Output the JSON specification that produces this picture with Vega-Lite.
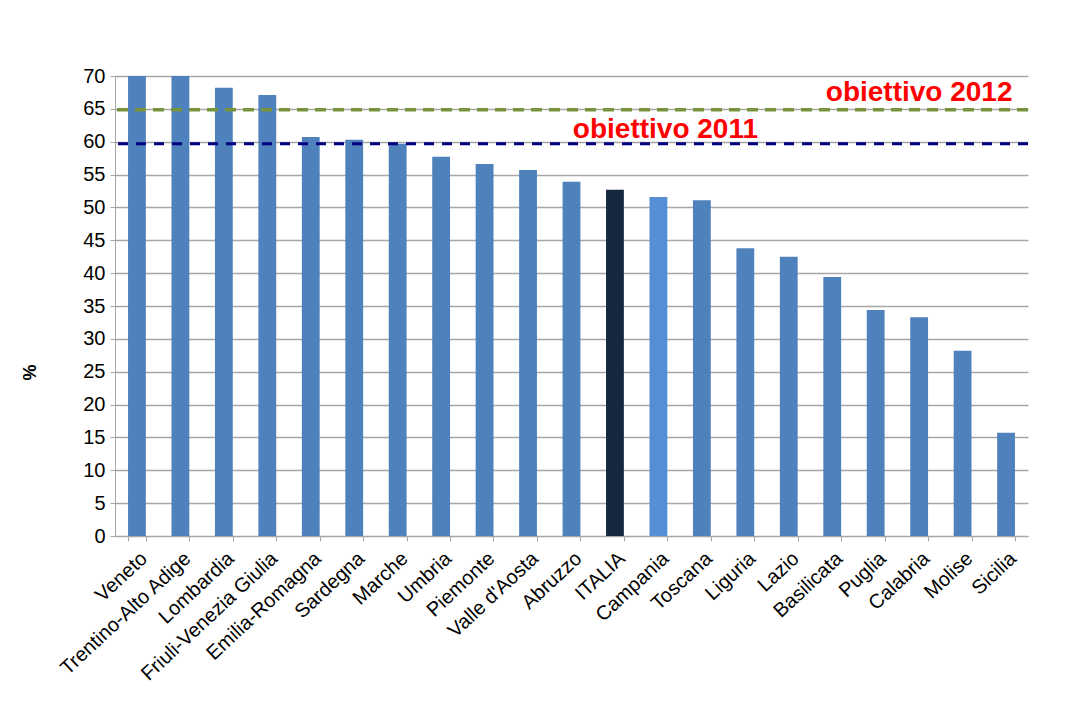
{
  "$schema": "https://vega.github.io/schema/vega-lite/v6.json",
  "width": 913,
  "height": 460,
  "autosize": {"type": "none"},
  "padding": {"left": 115, "top": 76, "right": 53, "bottom": 178},
  "background": "white",
  "data": {
    "values": [
      {"regione": "Veneto", "valore": 70},
      {"regione": "Trentino-Alto Adige", "valore": 70},
      {"regione": "Lombardia", "valore": 68.2},
      {"regione": "Friuli-Venezia Giulia", "valore": 67.1},
      {"regione": "Emilia-Romagna", "valore": 60.7},
      {"regione": "Sardegna", "valore": 60.3},
      {"regione": "Marche", "valore": 59.7},
      {"regione": "Umbria", "valore": 57.7},
      {"regione": "Piemonte", "valore": 56.6},
      {"regione": "Valle d'Aosta", "valore": 55.7},
      {"regione": "Abruzzo", "valore": 53.9},
      {"regione": "ITALIA", "valore": 52.7},
      {"regione": "Campania", "valore": 51.6},
      {"regione": "Toscana", "valore": 51.1},
      {"regione": "Liguria", "valore": 43.8},
      {"regione": "Lazio", "valore": 42.5},
      {"regione": "Basilicata", "valore": 39.4},
      {"regione": "Puglia", "valore": 34.4},
      {"regione": "Calabria", "valore": 33.3},
      {"regione": "Molise", "valore": 28.2},
      {"regione": "Sicilia", "valore": 15.7}
    ]
  },
  "layer": [
    {
      "mark": {"type": "bar"},
      "encoding": {
        "x": {
          "field": "regione",
          "type": "nominal",
          "sort": null,
          "title": null,
          "scale": {"paddingInner": 0.59, "paddingOuter": 0.3},
          "axis": {
            "labelAngle": -43,
            "labelFontSize": 20,
            "labelPadding": 7,
            "labelOverlap": false,
            "tickBand": "extent",
            "tickSize": 5,
            "tickColor": "#a6a6a6",
            "domainColor": "#a6a6a6",
            "grid": false
          }
        },
        "y": {
          "field": "valore",
          "type": "quantitative",
          "title": "%",
          "scale": {"domain": [0, 70], "nice": false},
          "axis": {
            "values": [0, 5, 10, 15, 20, 25, 30, 35, 40, 45, 50, 55, 60, 65, 70],
            "labelOverlap": false,
            "labelFontSize": 20,
            "labelPadding": 5,
            "tickSize": 5,
            "tickColor": "#a6a6a6",
            "domainColor": "#a6a6a6",
            "gridColor": "#a6a6a6",
            "gridWidth": 1.3,
            "titleFontSize": 18,
            "titleFontWeight": "bold",
            "titleAngle": -90,
            "titleX": -76,
            "titleY": 296
          }
        },
        "color": {
          "condition": [
            {"test": "datum.regione === 'ITALIA'", "value": "#14273f"},
            {"test": "datum.regione === 'Campania'", "value": "#558ed5"}
          ],
          "value": "#4f81bd"
        }
      }
    },
    {
      "data": {"values": [{"obiettivo": "obiettivo 2012", "soglia": 64.85}]},
      "mark": {"type": "rule", "color": "#77933c", "strokeWidth": 3.5, "strokeDash": [11, 7]},
      "encoding": {
        "y": {
          "field": "soglia",
          "type": "quantitative",
          "title": "%",
          "axis": {
            "values": [0, 5, 10, 15, 20, 25, 30, 35, 40, 45, 50, 55, 60, 65, 70],
            "labelOverlap": false,
            "labelFontSize": 20,
            "labelPadding": 5,
            "tickSize": 5,
            "tickColor": "#a6a6a6",
            "domainColor": "#a6a6a6",
            "gridColor": "#a6a6a6",
            "gridWidth": 1.3,
            "titleFontSize": 18,
            "titleFontWeight": "bold",
            "titleAngle": -90,
            "titleX": -76,
            "titleY": 296
          }
        }
      }
    },
    {
      "data": {"values": [{"obiettivo": "obiettivo 2011", "soglia": 59.7}]},
      "mark": {"type": "rule", "color": "#000080", "strokeWidth": 3, "strokeDash": [10, 8]},
      "encoding": {
        "y": {
          "field": "soglia",
          "type": "quantitative",
          "title": "%",
          "axis": {
            "values": [0, 5, 10, 15, 20, 25, 30, 35, 40, 45, 50, 55, 60, 65, 70],
            "labelOverlap": false,
            "labelFontSize": 20,
            "labelPadding": 5,
            "tickSize": 5,
            "tickColor": "#a6a6a6",
            "domainColor": "#a6a6a6",
            "gridColor": "#a6a6a6",
            "gridWidth": 1.3,
            "titleFontSize": 18,
            "titleFontWeight": "bold",
            "titleAngle": -90,
            "titleX": -76,
            "titleY": 296
          }
        }
      }
    },
    {
      "data": {"values": [{"obiettivo": "obiettivo 2012", "soglia": 64.85}]},
      "mark": {"type": "text", "color": "#ff0000", "fontSize": 28, "fontWeight": "bold", "align": "center", "baseline": "middle", "dy": -17},
      "encoding": {
        "text": {"field": "obiettivo"},
        "x": {
          "datum": "Calabria",
          "type": "nominal",
          "title": null,
          "axis": {
            "labelAngle": -43,
            "labelFontSize": 20,
            "labelPadding": 7,
            "labelOverlap": false,
            "tickBand": "extent",
            "tickSize": 5,
            "tickColor": "#a6a6a6",
            "domainColor": "#a6a6a6",
            "grid": false
          }
        },
        "y": {
          "field": "soglia",
          "type": "quantitative",
          "title": "%",
          "axis": {
            "values": [0, 5, 10, 15, 20, 25, 30, 35, 40, 45, 50, 55, 60, 65, 70],
            "labelOverlap": false,
            "labelFontSize": 20,
            "labelPadding": 5,
            "tickSize": 5,
            "tickColor": "#a6a6a6",
            "domainColor": "#a6a6a6",
            "gridColor": "#a6a6a6",
            "gridWidth": 1.3,
            "titleFontSize": 18,
            "titleFontWeight": "bold",
            "titleAngle": -90,
            "titleX": -76,
            "titleY": 296
          }
        }
      }
    },
    {
      "data": {"values": [{"obiettivo": "obiettivo 2011", "soglia": 59.7}]},
      "mark": {"type": "text", "color": "#ff0000", "fontSize": 28, "fontWeight": "bold", "align": "center", "baseline": "middle", "dx": 7, "dy": -14},
      "encoding": {
        "text": {"field": "obiettivo"},
        "x": {
          "datum": "Campania",
          "type": "nominal",
          "title": null,
          "axis": {
            "labelAngle": -43,
            "labelFontSize": 20,
            "labelPadding": 7,
            "labelOverlap": false,
            "tickBand": "extent",
            "tickSize": 5,
            "tickColor": "#a6a6a6",
            "domainColor": "#a6a6a6",
            "grid": false
          }
        },
        "y": {
          "field": "soglia",
          "type": "quantitative",
          "title": "%",
          "axis": {
            "values": [0, 5, 10, 15, 20, 25, 30, 35, 40, 45, 50, 55, 60, 65, 70],
            "labelOverlap": false,
            "labelFontSize": 20,
            "labelPadding": 5,
            "tickSize": 5,
            "tickColor": "#a6a6a6",
            "domainColor": "#a6a6a6",
            "gridColor": "#a6a6a6",
            "gridWidth": 1.3,
            "titleFontSize": 18,
            "titleFontWeight": "bold",
            "titleAngle": -90,
            "titleX": -76,
            "titleY": 296
          }
        }
      }
    }
  ],
  "config": {
    "font": "Liberation Sans",
    "axis": {"labelColor": "black", "titleColor": "black", "labelFont": "Liberation Sans", "titleFont": "Liberation Sans"},
    "view": {"stroke": null}
  }
}
